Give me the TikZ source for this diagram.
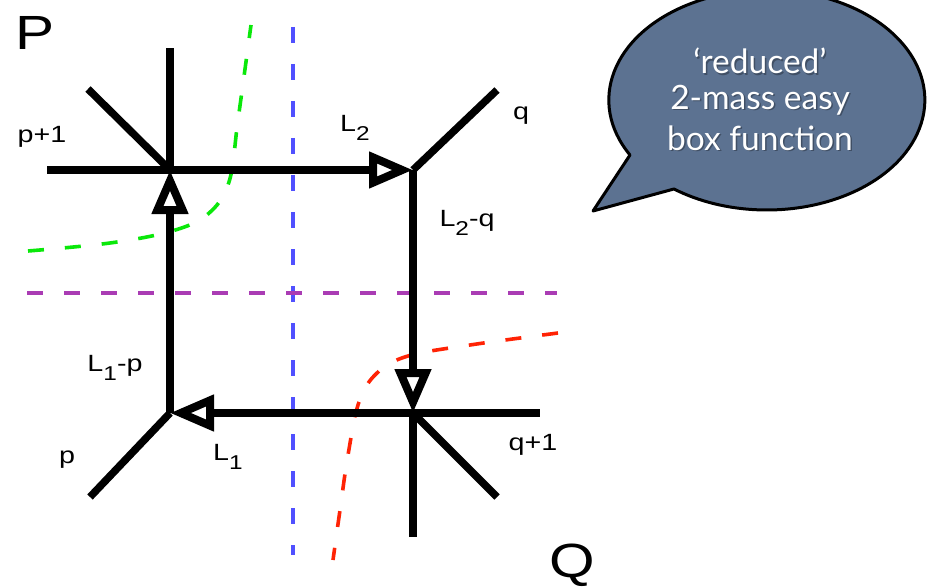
\documentclass[tikz,border=0pt]{standalone}
\usepackage{fontspec}
\setmainfont{Liberation Sans}
\newfontfamily\bubblefont{Lato}
\usetikzlibrary{arrows.meta}
\definecolor{bubblefill}{RGB}{92,114,145}
\definecolor{cutgreen}{RGB}{10,232,10}
\definecolor{cutblue}{RGB}{80,80,255}
\definecolor{cutpurple}{RGB}{170,60,180}
\definecolor{cutred}{RGB}{255,35,5}
\newcommand{\wlab}[1]{\scalebox{1.22}[1]{#1}}
\newcommand{\Lsub}[1]{L\raisebox{-0.36em}{\fontsize{20}{22}\selectfont #1}}
\begin{document}
\begin{tikzpicture}[x=1pt,y=-1pt,
  leg/.style={line width=7.5pt},
  prop/.style={line width=7.5pt,-{Triangle[open,length=44pt,width=35pt,line width=8pt]}},
  cut/.style={line width=3.6pt,dash pattern=on 16pt off 21pt},
  lab/.style={font=\fontsize{23.5}{26}\selectfont,inner sep=0pt},
  big/.style={font=\fontsize{48}{52}\selectfont,inner sep=0pt},
  bubble/.style={draw=black,line width=3pt,fill=bubblefill,line join=round},
  btext/.style={font=\bubblefont\fontsize{33.5}{36}\selectfont,text=white,inner sep=0pt},
  bshadow/.style={font=\bubblefont\fontsize{33.5}{36}\selectfont,text=black,opacity=0.3,inner sep=0pt}]
\useasboundingbox (0,0) rectangle (928,588);
\clip (0,0) rectangle (928,588);
% vertices
\coordinate (TL) at (170,170);
\coordinate (TR) at (413,170);
\coordinate (BR) at (413,413);
\coordinate (BL) at (170,413);
% external legs
\coordinate (TLup) at (170,48);
\coordinate (TLdiag) at (88,89);
\coordinate (TLleft) at (47,170);
\coordinate (TRdiag) at (497,90);
\coordinate (BRright) at (540,413);
\coordinate (BRdown) at (413,537);
\coordinate (BRdiag) at (497,497);
\coordinate (BLdiag) at (90,497);
% cut lines
\coordinate (bv1) at (293,27);
\coordinate (bv2) at (293,555);
\coordinate (ph1) at (27,293);
\coordinate (ph2) at (557,293);
\draw[cut,cutblue] (bv1) -- (bv2);
\draw[cut,cutpurple] (ph1) -- (ph2);
\draw[cut,cutgreen] plot[smooth,tension=0.6] coordinates {(28,251) (110,243) (172,231) (208,214) (229,182) (238,120) (251,25)};
\draw[cut,cutred] plot[smooth,tension=0.6] coordinates {(558,333) (470,345) (408,356) (377,373) (359,402) (348,455) (340,510) (333,560)};
% legs
\draw[leg] (TL) -- (TLup);
\draw[leg] (TL) -- (TLdiag);
\draw[leg] (TL) -- (TLleft);
\draw[leg] (TR) -- (TRdiag);
\draw[leg] (BR) -- (BRright);
\draw[leg] (BR) -- (BRdown);
\draw[leg] (BR) -- (BRdiag);
\draw[leg] (BL) -- (BLdiag);
% propagators
\draw[prop] (TL) -- (TR);
\draw[prop] (TR) -- (BR);
\draw[prop] (BR) -- (BL);
\draw[prop] (BL) -- (TL);
% labels
\node[big] (P) at (35,33) {\wlab{P}};
\node[big] (Q) at (572,565) {\wlab{Q}};
\node[lab] (lp1) at (42,137) {\wlab{p+1}};
\node[lab] (lL2) at (355,128) {\wlab{\Lsub{2}}};
\node[lab] (lq) at (521,116) {\wlab{q}};
\node[lab] (lL2q) at (467,223) {\wlab{\Lsub{2}-q}};
\node[lab] (lL1p) at (115,368) {\wlab{\Lsub{1}-p}};
\node[lab] (lp) at (67,460) {\wlab{p}};
\node[lab] (lL1) at (228,457) {\wlab{\Lsub{1}}};
\node[lab] (lq1) at (533,445) {\wlab{q+1}};
% speech bubble
\draw[bubble] (630,155) arc[start angle=150,end angle=486,x radius=158,y radius=110] -- (593,211) -- cycle;
\node[bshadow] (s1) at (761.5,62.5) {‘reduced’};
\node[bshadow] (s2) at (761.5,101.5) {2-mass easy};
\node[bshadow] (s3) at (761.5,139.5) {box function};
\node[btext] (t1) at (760,61) {‘reduced’};
\node[btext] (t2) at (760,100) {2-mass easy};
\node[btext] (t3) at (760,138) {box function};
\end{tikzpicture}
\end{document}
